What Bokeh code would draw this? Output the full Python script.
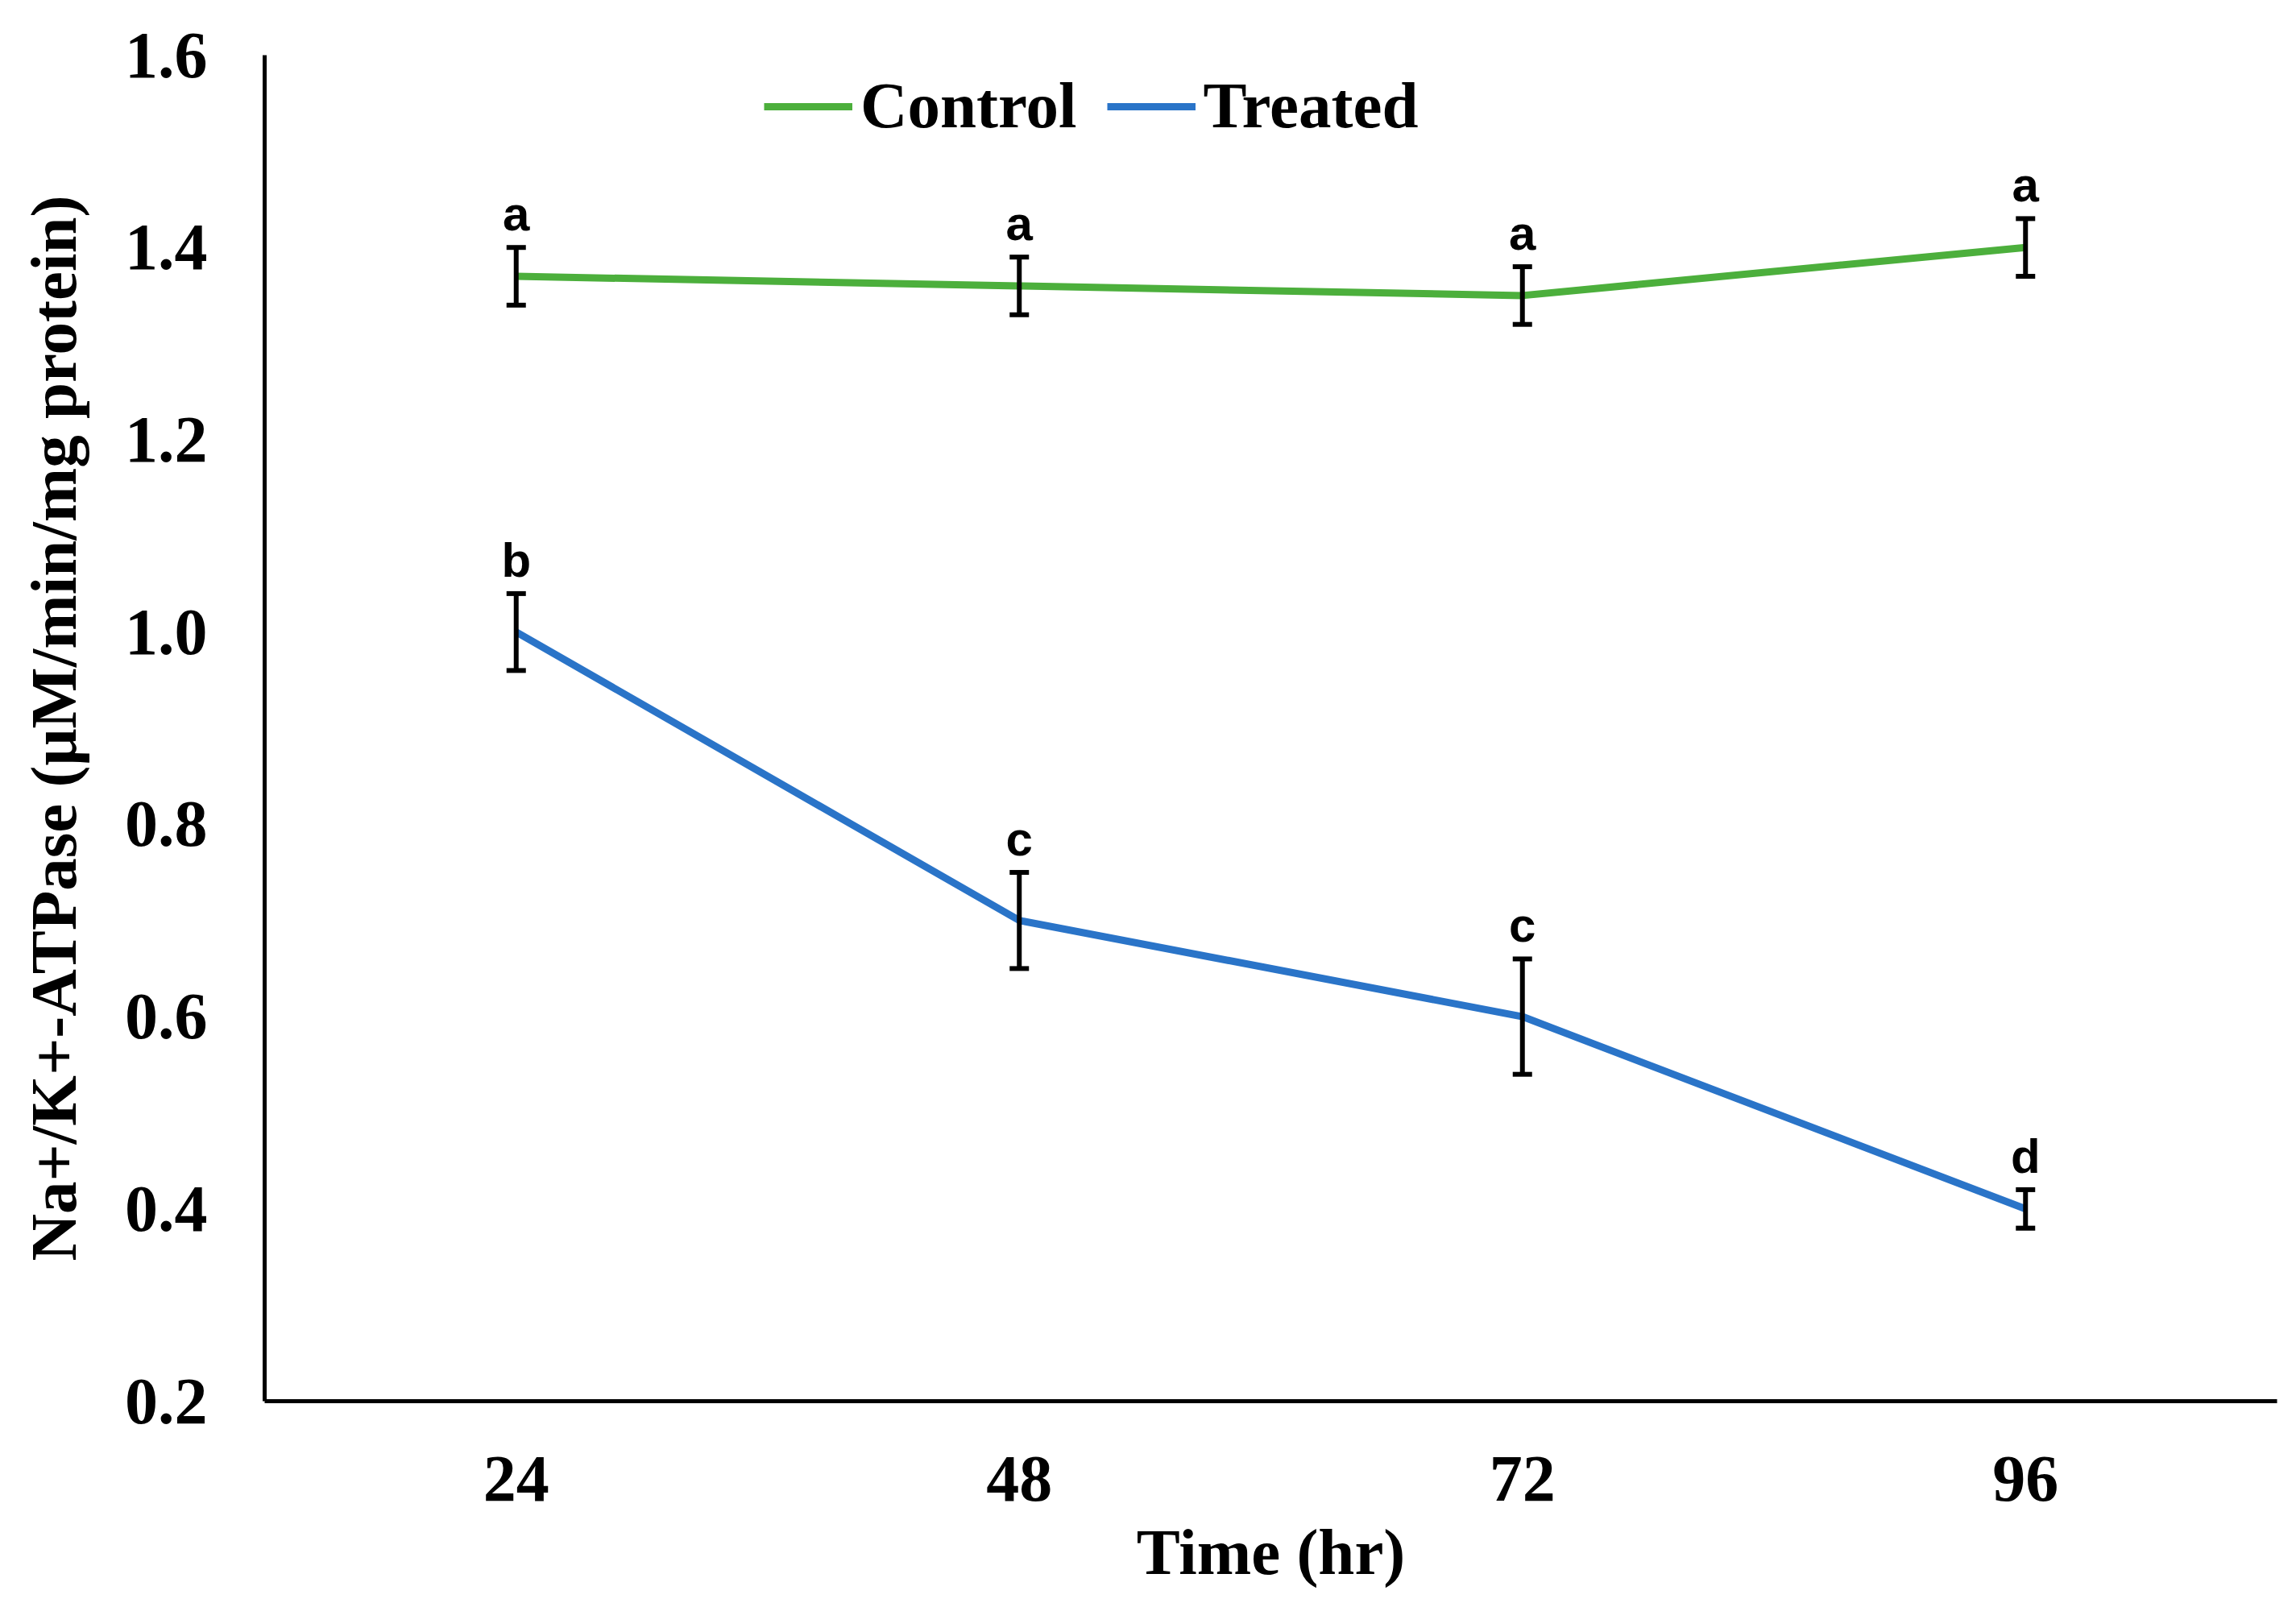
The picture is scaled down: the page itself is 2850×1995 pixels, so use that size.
from bokeh.plotting import figure
from bokeh.models import (ColumnDataSource, FactorRange, Range1d, FixedTicker,
                          Whisker, TeeHead, Legend, LegendItem, NumeralTickFormatter)
from bokeh.core.properties import value
from bokeh.embed import file_html
from bokeh.resources import INLINE

# ---------------- data ----------------
times = ["24", "48", "72", "96"]
control_mean = [1.37, 1.36, 1.35, 1.40]
control_err = [0.03, 0.03, 0.03, 0.03]
control_letters = ["a", "a", "a", "a"]
treated_mean = [1.00, 0.70, 0.60, 0.40]
treated_err = [0.04, 0.05, 0.06, 0.02]
treated_letters = ["b", "c", "c", "d"]
y_ticks = [0.2, 0.4, 0.6, 0.8, 1.0, 1.2, 1.4, 1.6]

GREEN = "#4CAF3C"
BLUE = "#2A74C8"
SERIF = "Liberation Serif"
SANS = "Liberation Sans"

p = figure(width=2834, height=1979, x_range=FactorRange(*times, range_padding=0),
           y_range=Range1d(0.2, 1.6), output_backend="svg", toolbar_location=None,
           min_border_left=328, min_border_right=8, min_border_top=68,
           min_border_bottom=240)
p.outline_line_color = None
p.grid.visible = False
p.background_fill_color = "white"
p.border_fill_color = "white"

def src(mean, err, letters):
    return ColumnDataSource(dict(
        x=times, y=mean,
        upper=[m + e for m, e in zip(mean, err)],
        lower=[m - e for m, e in zip(mean, err)],
        letter=letters))

cs = src(control_mean, control_err, control_letters)
ts = src(treated_mean, treated_err, treated_letters)

r_c = p.line("x", "y", source=cs, line_color=GREEN, line_width=9)
r_t = p.line("x", "y", source=ts, line_color=BLUE, line_width=9)

for s in (cs, ts):
    w = Whisker(base="x", upper="upper", lower="lower", source=s, dimension="height",
                line_color="black", line_width=6, level="annotation",
                upper_head=TeeHead(size=24, line_width=6, line_color="black"),
                lower_head=TeeHead(size=24, line_width=6, line_color="black"))
    p.add_layout(w)
    p.text("x", "upper", text="letter", source=s, text_align="center",
           text_baseline="bottom", y_offset=-8, text_font=value(SANS),
           text_font_style="bold", text_font_size="60px", text_color="black")

# axes
for ax in (p.xaxis[0], p.yaxis[0]):
    ax.axis_line_width = 5
    ax.axis_line_color = "black"
    ax.major_tick_line_color = None
    ax.minor_tick_line_color = None
    ax.major_label_text_font = SERIF
    ax.major_label_text_font_style = "bold"
    ax.major_label_text_font_size = "82px"
    ax.major_label_text_color = "black"
    ax.axis_label_text_font = SERIF
    ax.axis_label_text_font_style = "bold"
    ax.axis_label_text_font_size = "81px"
    ax.axis_label_text_color = "black"

p.yaxis.ticker = FixedTicker(ticks=y_ticks)
p.yaxis.formatter = NumeralTickFormatter(format="0.0")
p.yaxis.major_label_standoff = 65
p.yaxis.axis_label = "Na+/K+-ATPase (μM/min/mg protein)"
p.yaxis.axis_label_standoff = 40

p.xaxis.major_label_standoff = 63
p.xaxis.axis_label = "Time (hr)"
p.xaxis.axis_label_standoff = 16

legend = Legend(items=[LegendItem(label="Control", renderers=[r_c]),
                       LegendItem(label="Treated", renderers=[r_t])],
                orientation="horizontal", location=(620, 1561),
                glyph_width=110, glyph_height=20, label_standoff=10, spacing=37,
                padding=0, margin=0, border_line_color=None,
                background_fill_alpha=0,
                label_text_font=SERIF, label_text_font_style="bold",
                label_text_font_size="81px", label_text_color="black")
p.add_layout(legend)

open("out.html", "w").write(file_html(p, INLINE))
